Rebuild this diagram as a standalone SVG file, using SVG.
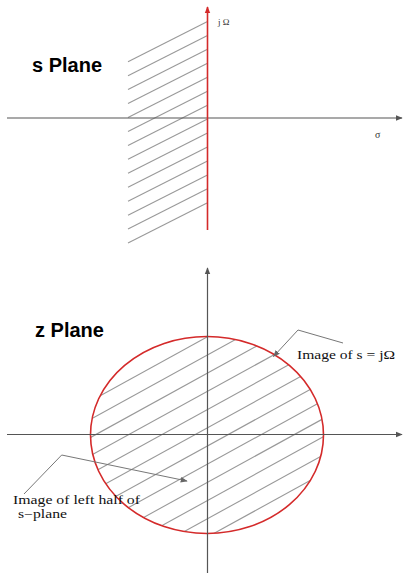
<svg xmlns="http://www.w3.org/2000/svg" width="403" height="573" viewBox="0 0 403 573">
<style>
.axis{stroke:#555;stroke-width:1.2;fill:none}
.red{stroke:#d42a2a;stroke-width:1.6;fill:none}
.hatch{stroke:#999;stroke-width:1.1}
.title{font-family:"Liberation Sans",Arial,sans-serif;font-weight:bold;font-size:20px;fill:#000}
.lbl{font-family:"Liberation Serif","DejaVu Serif",serif;font-size:11.5px;fill:#111}
.lead{stroke:#777;stroke-width:1;fill:none}
</style>
<defs>
<marker id="ag" viewBox="0 0 10 10" refX="9" refY="5" markerWidth="7" markerHeight="7" markerUnits="userSpaceOnUse" orient="auto"><path d="M0,1 L10,5 L0,9 z" fill="#555"/></marker>
<marker id="ar" viewBox="0 0 10 10" refX="9" refY="5" markerWidth="7" markerHeight="7" markerUnits="userSpaceOnUse" orient="auto"><path d="M0,1 L10,5 L0,9 z" fill="#d42a2a"/></marker>
<marker id="al" viewBox="0 0 10 10" refX="9" refY="5" markerWidth="7" markerHeight="7" markerUnits="userSpaceOnUse" orient="auto"><path d="M0,1 L10,5 L0,9 z" fill="#666"/></marker>
<clipPath id="ec"><ellipse cx="207" cy="435" rx="116.5" ry="98.5"/></clipPath>
</defs>

<g id="s-plane">
<g id="s-hatch" class="hatch">
<line x1="128" y1="61.7" x2="207" y2="21.7"/>
<line x1="128" y1="75.65" x2="207" y2="35.65"/>
<line x1="128" y1="89.6" x2="207" y2="49.6"/>
<line x1="128" y1="103.55" x2="207" y2="63.55"/>
<line x1="128" y1="117.5" x2="207" y2="77.5"/>
<line x1="128" y1="131.45" x2="207" y2="91.45"/>
<line x1="128" y1="145.4" x2="207" y2="105.4"/>
<line x1="128" y1="159.35" x2="207" y2="119.35"/>
<line x1="128" y1="173.3" x2="207" y2="133.3"/>
<line x1="128" y1="187.25" x2="207" y2="147.25"/>
<line x1="128" y1="201.2" x2="207" y2="161.2"/>
<line x1="128" y1="215.15" x2="207" y2="175.15"/>
<line x1="128" y1="229.1" x2="207" y2="189.1"/>
<line x1="128" y1="243.05" x2="207" y2="203.05"/>
</g>
<text class="title" x="32" y="72">s Plane</text>
<text x="218" y="25" style="font-family:'Liberation Serif',serif;font-size:9px;fill:#333">j Ω</text>
<text x="375" y="138" style="font-family:'Liberation Serif',serif;font-size:10px;fill:#333">σ</text>
</g>

<g id="z-plane">
<g id="z-hatch" class="hatch" clip-path="url(#ec)">
<line x1="60" y1="417.85" x2="360" y2="252.85"/>
<line x1="60" y1="436.05" x2="360" y2="271.05"/>
<line x1="60" y1="454.25" x2="360" y2="289.25"/>
<line x1="60" y1="472.45" x2="360" y2="307.45"/>
<line x1="60" y1="490.65" x2="360" y2="325.65"/>
<line x1="60" y1="508.85" x2="360" y2="343.85"/>
<line x1="60" y1="527.05" x2="360" y2="362.05"/>
<line x1="60" y1="545.25" x2="360" y2="380.25"/>
<line x1="60" y1="563.45" x2="360" y2="398.45"/>
<line x1="60" y1="581.65" x2="360" y2="416.65"/>
<line x1="60" y1="599.85" x2="360" y2="434.85"/>
<line x1="60" y1="618.05" x2="360" y2="453.05"/>
<line x1="60" y1="636.25" x2="360" y2="471.25"/>
</g>
<ellipse id="unit-circle" class="red" cx="207" cy="435" rx="116.5" ry="98.5"/>
<text class="title" x="35" y="337">z Plane</text>
<text class="lbl" x="297" y="359" textLength="98" lengthAdjust="spacingAndGlyphs">Image of s = jΩ</text>
<text class="lbl" x="13" y="504" textLength="127" lengthAdjust="spacingAndGlyphs">Image of left half of</text>
<text class="lbl" x="18" y="518" textLength="49" lengthAdjust="spacingAndGlyphs">s−plane</text>
</g>

<g id="connectors">
<line class="axis" x1="7" y1="118" x2="402" y2="118" marker-end="url(#ag)"/>
<line class="red" x1="207.5" y1="230" x2="207.5" y2="7" marker-end="url(#ar)"/>
<line class="axis" x1="7" y1="434.5" x2="402" y2="434.5" marker-end="url(#ag)"/>
<line class="axis" x1="207.5" y1="573" x2="207.5" y2="268" marker-end="url(#ag)"/>
<polyline class="lead" points="343,343 298,330 273.5,356.5" marker-end="url(#al)"/>
<polyline class="lead" points="24,494 61.7,455 187,481" marker-end="url(#al)"/>
</g>
</svg>
